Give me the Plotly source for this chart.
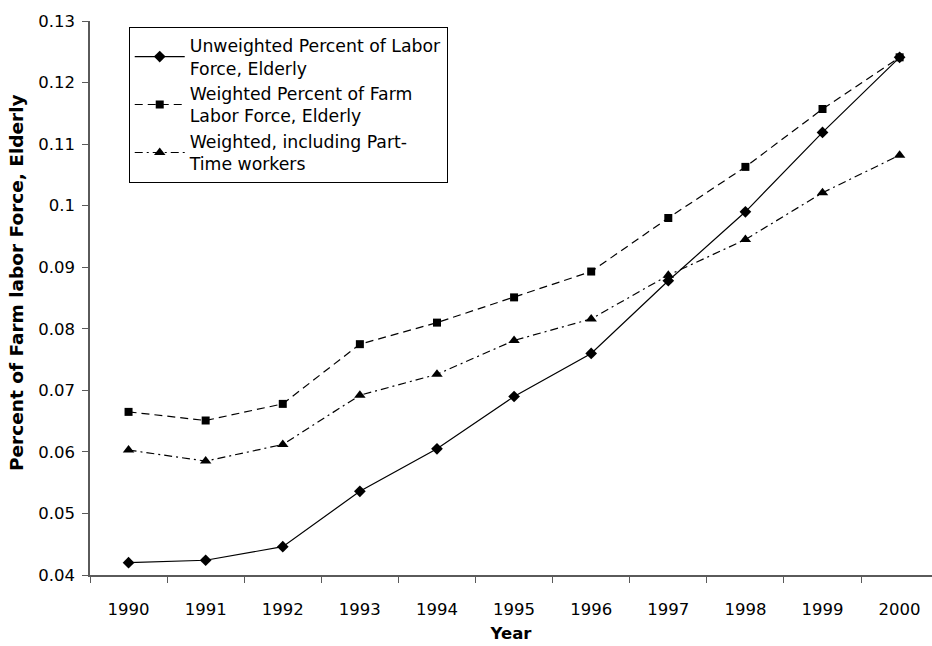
import plotly.graph_objects as go

years = ["1990", "1991", "1992", "1993", "1994", "1995", "1996", "1997", "1998", "1999", "2000"]

unweighted = [0.0420, 0.0424, 0.0446, 0.0536, 0.0605, 0.0690, 0.0760, 0.0878, 0.0990, 0.1119, 0.1241]
weighted = [0.0665, 0.0651, 0.0678, 0.0775, 0.0810, 0.0851, 0.0893, 0.0980, 0.1063, 0.1157, 0.1241]
weighted_pt = [0.0603, 0.0585, 0.0612, 0.0692, 0.0726, 0.0781, 0.0816, 0.0887, 0.0945, 0.1021, 0.1082]

y_ticks = [0.04, 0.05, 0.06, 0.07, 0.08, 0.09, 0.10, 0.11, 0.12, 0.13]
y_tick_text = ["0.04", "0.05", "0.06", "0.07", "0.08", "0.09", "0.1", "0.11", "0.12", "0.13"]

FONT = "DejaVu Sans"
AXIS_GRAY = "#5a5a5a"

fig = go.Figure()
fig.add_trace(go.Scatter(
    x=years, y=unweighted, mode="lines+markers",
    name="Unweighted Percent of Labor<br>Force, Elderly",
    line=dict(color="black", width=1.2),
    marker=dict(symbol="diamond", size=9, color="black"),
))
fig.add_trace(go.Scatter(
    x=years, y=weighted, mode="lines+markers",
    name="Weighted Percent of Farm<br>Labor Force, Elderly",
    line=dict(color="black", width=1.2, dash="8px,5px"),
    marker=dict(symbol="square", size=8, color="black"),
))
fig.add_trace(go.Scatter(
    x=years, y=weighted_pt, mode="lines+markers",
    name="Weighted, including Part-<br>Time workers",
    line=dict(color="black", width=1.2, dash="8px,4px,2px,4px"),
    marker=dict(symbol="triangle-up", size=10, color="black"),
))

fig.update_layout(
    width=932, height=646,
    margin=dict(l=90, r=0, t=21, b=71),
    paper_bgcolor="white", plot_bgcolor="white",
    font=dict(family=FONT, size=16.5, color="black"),
    showlegend=True,
    legend=dict(
        x=0.046, y=0.99, xanchor="left", yanchor="top",
        bordercolor="black", borderwidth=1, bgcolor="white",
        font=dict(family=FONT, size=17.3, color="black"),
        tracegroupgap=0, itemwidth=50,
    ),
    xaxis=dict(
        type="category", range=[-0.5, 10.42],
        showline=True, linecolor=AXIS_GRAY, linewidth=1.5,
        ticks="outside", tickson="boundaries", ticklen=6, tickcolor=AXIS_GRAY,
        ticklabelstandoff=18,
        showgrid=False, zeroline=False,
        title=dict(text="<b>Year</b>", font=dict(family=FONT, size=16.5), standoff=10),
    ),
    yaxis=dict(
        range=[0.04, 0.13], tickvals=y_ticks, ticktext=y_tick_text,
        showline=True, linecolor=AXIS_GRAY, linewidth=1.5,
        ticks="outside", ticklen=6, tickcolor=AXIS_GRAY,
        ticklabelstandoff=4,
        showgrid=False, zeroline=False,
    ),
    annotations=[dict(
        text="<b>Percent of Farm labor Force, Elderly</b>",
        xref="paper", yref="paper", x=-90 / 842 + 17 / 842, y=(575 - 283) / 554,
        xanchor="center", yanchor="middle", textangle=-90, showarrow=False,
        font=dict(family=FONT, size=18.5, color="black"),
    )],
)

fig.write_html("out.html")
